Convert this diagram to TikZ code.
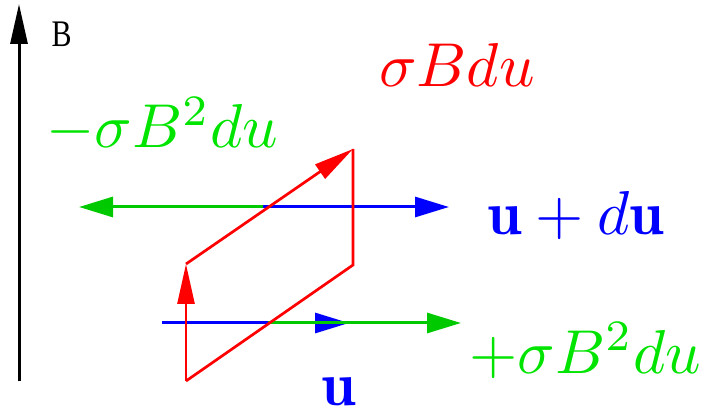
\documentclass[tikz,border=0pt]{standalone}
\usepackage{fontspec}
\newfontfamily\tfont{Liberation Serif}
\usetikzlibrary{arrows.meta}
\definecolor{fgreen}{RGB}{0,228,0}
\definecolor{fblue}{RGB}{0,0,255}
\definecolor{fred}{RGB}{255,0,0}
\tikzset{
  axis/.style={line width=3pt,-{Triangle[length=40pt,width=17pt]}},
  vec/.style={line width=3pt,-{Triangle[length=34pt,width=20pt]}},
  loop/.style={line width=2.7pt,fred,line join=miter},
  loopvec/.style={line width=2.7pt,fred,-{Triangle[length=40pt,width=17pt]}},
  lbl/.style={inner sep=0pt,anchor=base west,scale=6.2},
}
\begin{document}
\begin{tikzpicture}[x=1pt,y=-1pt]
\useasboundingbox (0,0) rectangle (710,414);
% axis
\coordinate (ax0) at (19,381);
\coordinate (ax1) at (19,4);
\draw[axis] (ax0) -- (ax1);
\node[inner sep=0pt,anchor=base west,xscale=3.0,yscale=3.75,font=\tfont] (Blbl) at (51,47) {B};
% upper pair of vectors
\coordinate (tb0) at (163,207);
\coordinate (tb1) at (449,207);
\coordinate (tg0) at (263,207);
\coordinate (tg1) at (79,207);
\draw[vec,fblue] (tb0) -- (tb1);
\draw[vec,fgreen!88!black] (tg0) -- (tg1);
% lower pair of vectors
\coordinate (bb0) at (162,323);
\coordinate (bb1) at (349,323);
\coordinate (bg0) at (268,323);
\coordinate (bg1) at (461,323);
\draw[vec,fblue] (bb0) -- (bb1);
\draw[vec,fgreen!88!black] (bg0) -- (bg1);
% parallelogram
\coordinate (p1) at (186,381);
\coordinate (p2) at (186,264);
\coordinate (p3) at (353,149);
\coordinate (p4) at (353,265);
\draw[loop] (p3) -- (p4) -- (p1);
\draw[loopvec] (p1) -- (p2);
\draw[loopvec] (p2) -- (p3);
% labels
\node[lbl,text=fred] (sbdu) at (378,87) {$\sigma B du$};
\node[lbl,text=fgreen] (msb) at (45,148) {$-\sigma B^2 du$};
\node[lbl,text=fblue] (udu) at (486,235) {$\mathbf{u}+d\mathbf{u}$};
\node[lbl,text=fgreen] (psb) at (468,373) {$+\sigma B^2 du$};
\node[lbl,text=fblue] (ulbl) at (320,405) {$\mathbf{u}$};
\end{tikzpicture}
\end{document}
